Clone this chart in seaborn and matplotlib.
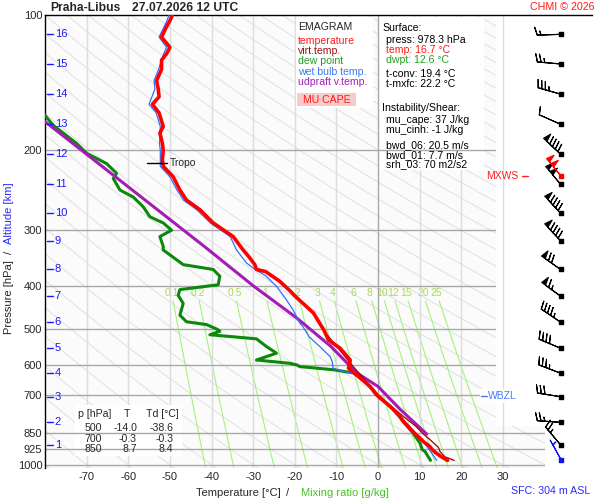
import matplotlib.pyplot as plt
import numpy as np
import seaborn as sns
from matplotlib.patches import Rectangle, Polygon
from matplotlib.ticker import NullLocator

# ---- sounding data ----
temp_p = [978.3, 960, 940, 925, 910, 890, 870, 850, 835, 800, 781, 742, 700, 670, 632, 610, 598, 585,
          551, 528, 502, 480, 460, 438, 423, 410, 391, 372, 368, 359, 345, 333, 311, 290, 271, 258,
          245, 229, 217, 210, 200, 193, 183, 177, 165, 158, 152, 146, 140, 132, 126, 122, 118, 112,
          107, 103, 100]
temp_t = [16.7, 15.2, 13.8, 13.0, 12.4, 11.0, 9.9, 8.7, 7.9, 6.0, 5.3, 2.9, -0.3, -1.9, -5.1, -7.1, -6.8, -6.7,
          -9.1, -11.9, -13.0, -14.3, -15.5, -18.0, -19.8, -21.2, -23.6, -27.0, -29.2, -29.6, -31.0, -32.4,
          -34.8, -39.6, -42.8, -46.0, -47.6, -49.2, -51.6, -51.8, -51.6, -51.8, -52.4, -51.6, -52.6, -54.2,
          -52.6, -52.8, -53.2, -52.0, -52.0, -50.8, -50.0, -52.0, -51.0, -50.0, -49.4]

virt_p = [978.3, 960, 935, 915, 880, 855, 820, 780, 700, 600, 500]
virt_t = [18.3, 16.0, 14.9, 14.5, 12.5, 10.9, 9.0, 6.0, 0.0, -6.3, -13.3]

dew_p = [978.3, 975, 935, 925, 896, 850, 842, 800, 753, 700, 658, 625, 615, 605, 600, 595, 585, 565,
         546, 525, 514, 505, 500, 488, 481, 465, 438, 420, 408, 398, 381, 368, 359, 333, 327, 311, 301,
         290, 281, 267, 254, 245, 231, 225, 214, 203, 193, 176, 163]
dew_t = [12.6, 12.5, 11.3, 10.6, 10.1, 8.4, 8.0, 6.0, 3.7, -0.3, -2.7, -5.9, -10.7, -18.8, -19.5, -21.2, -29.2,
         -24.4, -26.8, -29.2, -40.4, -38.0, -38.6, -41.2, -46.0, -47.6, -46.8, -48.0, -47.6, -38.4, -38.0,
         -39.6, -46.8, -51.6, -51.6, -52.4, -49.6, -51.6, -54.8, -56.4, -58.8, -62.0, -63.6, -62.8, -65.2,
         -70.0, -72.4, -78.0, -81.0]

wb_p = [978.3, 966, 940, 910, 872, 850, 800, 753, 700, 670, 625, 618, 610, 590, 575, 546, 520, 494, 484,
        470, 453, 430, 401, 380, 368, 356, 333, 311, 290, 271, 258, 245, 229, 217, 200, 193, 177, 165,
        158, 146, 140, 132, 122, 118, 112, 103, 100]
wb_t = [14.1, 13.7, 12.8, 11.7, 10.1, 9.0, 6.4, 3.9, 0.1, -1.6, -6.3, -9.0, -10.8, -11.0, -11.5, -14.0, -16.5,
        -18.0, -18.8, -19.5, -20.4, -22.0, -24.4, -27.0, -29.5, -31.6, -34.0, -35.5, -40.3, -43.5, -46.7,
        -48.3, -50.0, -52.3, -52.3, -52.5, -52.3, -53.3, -55.0, -53.6, -53.8, -52.7, -51.5, -50.8, -52.6,
        -50.7, -50.2]

parcel_p = [855, 753, 670, 625, 546, 472, 400, 330, 172.6]
parcel_t = [11.7, 5.3, 0.0, -5.1, -11.3, -19.5, -30.0, -41.2, -80.0]

# altitude scale (km) and winds at each km level
alt_km = list(range(1, 17))
alt_p = [904, 805, 706, 626, 551, 482, 422, 368, 318, 276, 238, 204, 175, 150, 128.5, 110.4]
wind_dir = [320, 274, 279, 291, 293, 304, 306, 305, 317, 317, 320, 313, 294, 286, 275, 268]
wind_kt = [25, 25, 30, 35, 40, 45, 65, 70, 90, 90, 100, 90, 10, 35, 25, 15]
sfc_p, sfc_dir, sfc_kt = 975, 331, 5
mxws_p, mxws_dir, mxws_kt = 227.6, 320, 100

p_ticks = [100, 200, 300, 400, 500, 600, 700, 850, 925, 1000]
t_ticks = [-70, -60, -50, -40, -30, -20, -10, 0, 10, 20, 30]
mix_ratios = [0.1, 0.2, 0.5, 1, 2, 3, 4, 6, 8, 10, 12, 15, 20, 25]

table_rows = [('500', '-14.0', '-38.6'), ('700', '-0.3', '-0.3'), ('850', '8.7', '8.4')]

sns.set_style('white')
plt.rcParams['font.family'] = ['Liberation Sans', 'DejaVu Sans']
plt.rcParams['axes.unicode_minus'] = False

fig = plt.figure(figsize=(6, 5), dpi=100)
ax = fig.add_axes([45 / 600, 1 - 468 / 500, (592 - 45) / 600, (468 - 15) / 500])
ax.set_yscale('log')
ax.set_xlim(-80, 51.4)
ax.set_ylim(1017, 100)


def px(x, y):
    return x / 600, 1 - y / 500


def T_of_px(x):
    return (x - 378) / 4.16


# plotting region (barb column cut out)
region = Polygon([(-80, 100), (28.4, 100), (28.4, 822), (40, 822), (40, 1017), (-80, 1017)],
                 closed=True, facecolor='#fbfbfb', edgecolor='none', zorder=0.5)
ax.add_patch(region)

pp = np.geomspace(100, 1017, 120)
for th in range(-80, 361, 10):
    tt = (th + 273.15) * (pp / 1000) ** 0.286 - 273.15
    ln, = ax.plot(tt, pp, color='#e0e0e0', lw=0.7, zorder=1)
    ln.set_clip_path(region)

pm = np.geomspace(432, 1017, 50)
for w in mix_ratios:
    e = w * pm / (622 + w)
    g = np.log(e / 6.112)
    ax.plot(243.5 * g / (17.67 - g), pm, color='#a4f27c', lw=0.8, zorder=1.2)
    e0 = w * 415 / (622 + w)
    g0 = np.log(e0 / 6.112)
    lab = f'{w:g}'
    ax.text(243.5 * g0 / (17.67 - g0), 415, lab, color='#a8d85a', fontsize=7.5,
            ha='center', va='center', zorder=1.3)

for t in t_ticks:
    ax.axvline(t, color='#a8a8a8' if t == 0 else '#dcdcdc', lw=1, zorder=1.4 if t else 2)

for p in p_ticks[1:]:
    ln = ax.axhline(p, color='#a8a8a8', lw=1, zorder=2)
    ln.set_clip_path(region)

# white text boxes
for (x0, y0, x1, y1) in [(296, 17, 373, 108), (379, 17, 484, 170), (75, 405, 182, 456)]:
    ax.add_patch(Rectangle(px(x0, y1), (x1 - x0) / 600, (y1 - y0) / 500, transform=fig.transFigure,
                           facecolor='white', edgecolor='none', zorder=1.5, clip_on=False))

# profiles
sns.lineplot(x=dew_t, y=dew_p, sort=False, estimator=None, color='#0a8a0a', lw=2.2, ax=ax, zorder=3)
sns.lineplot(x=parcel_t, y=parcel_p, sort=False, estimator=None, color='#a41cb4', lw=2.2, ax=ax, zorder=3.5)
sns.lineplot(x=wb_t, y=wb_p, sort=False, estimator=None, color='#2f6fff', lw=0.9, ax=ax, zorder=4)
sns.lineplot(x=virt_t, y=virt_p, sort=False, estimator=None, color='#9a0000', lw=0.9, ax=ax, zorder=4.2)
sns.lineplot(x=temp_t, y=temp_p, sort=False, estimator=None, color='#ff0000', lw=2.6, ax=ax, zorder=5)

# altitude scale
for km, p in zip(alt_km, alt_p):
    ax.plot([T_of_px(47), T_of_px(53.5)], [p, p], color='#1a1aff', lw=1, zorder=6)
    ax.text(T_of_px(55), p, str(km), color='#1a1aff', fontsize=8, ha='left', va='center', zorder=6)

# tropopause / markers
ax.plot([T_of_px(147), T_of_px(167)], [213.5, 213.5], color='black', lw=1, zorder=6)
ax.text(T_of_px(170), 213.5, 'Tropo', fontsize=7.5, ha='left', va='center', zorder=6)
ax.text(T_of_px(518), mxws_p, 'MXWS', color='#ff2020', fontsize=7.5, ha='right', va='center', zorder=6)
ax.plot([T_of_px(522), T_of_px(528)], [mxws_p, mxws_p], color='#ff2020', lw=1, zorder=6, clip_on=False)
ax.add_patch(Rectangle(px(480, 403), 42 / 600, 14 / 500, transform=fig.transFigure,
                       facecolor='white', edgecolor='none', zorder=5.5, clip_on=False))
ax.plot([T_of_px(481), T_of_px(487)], [705, 705], color='#4a7aff', lw=1, zorder=6)
ax.text(T_of_px(488), 705, 'WBZL', color='#4a7aff', fontsize=7.5, ha='left', va='center', zorder=6)

# wind barbs
xb = T_of_px(560.5)
bsize = dict(spacing=0.16, height=0.34, width=0.2)
blen = 5.8


def uv(d, s):
    r = np.deg2rad(np.asarray(d, dtype=float))
    s = np.asarray(s, dtype=float)
    return -s * np.sin(r), -s * np.cos(r)


u, v = uv(wind_dir, wind_kt)
ax.barbs([xb] * len(alt_p), alt_p, u, v, length=blen, sizes=bsize, lw=0.8, color='black', zorder=7, clip_on=False)
u, v = uv([mxws_dir], [mxws_kt])
ax.barbs([xb], [mxws_p], u, v, length=blen, sizes=bsize, lw=0.8, color='#ff0000', zorder=7.5, clip_on=False)
u, v = uv([sfc_dir], [sfc_kt])
ax.barbs([xb], [sfc_p], u, v, length=blen, sizes=bsize, lw=0.8, color='#1010ff', zorder=7, clip_on=False)
ax.scatter([xb] * len(alt_p), alt_p, marker='s', s=5, color='black', zorder=8, clip_on=False)
ax.scatter([xb], [mxws_p], marker='s', s=5, color='#ff0000', zorder=8, clip_on=False)
ax.scatter([xb], [sfc_p], marker='s', s=5, color='#1010ff', zorder=8, clip_on=False)

# axes styling
ax.set_yticks(p_ticks)
ax.set_yticklabels([str(p) for p in p_ticks])
ax.yaxis.set_minor_locator(NullLocator())
ax.set_xticks(t_ticks)
ax.set_xticklabels([str(t) for t in t_ticks])
ax.tick_params(length=0, pad=3, labelsize=8)
ax.tick_params(axis='y', pad=2)
for s in ['right', 'bottom']:
    ax.spines[s].set_visible(False)
for s in ['left', 'top']:
    ax.spines[s].set_color('black')
    ax.spines[s].set_linewidth(1)
ax.set_xlabel('')
ax.set_ylabel('')

# titles and labels
fig.text(*px(50, 8), 'Praha-Libus', fontsize=8.7, fontweight='bold', ha='left', va='center')
fig.text(*px(132, 8), '27.07.2026 12 UTC', fontsize=8.7, fontweight='bold', ha='left', va='center')
fig.text(*px(595, 7), 'CHMI © 2026', fontsize=7.7, color='#ff1a1a', ha='right', va='center')
fig.text(*px(590, 491), 'SFC: 304 m ASL', fontsize=7.7, color='#2a2aff', ha='right', va='center')
fig.text(*px(238.5, 493), 'Temperature [°C]', fontsize=8, ha='center', va='center')
fig.text(*px(288, 493), '/', fontsize=8, ha='center', va='center')
fig.text(*px(344.5, 493), 'Mixing ratio [g/kg]', fontsize=8, color='#44c424', ha='center', va='center')
fig.text(*px(9, 297.5), 'Pressure [hPa]', fontsize=8, rotation=90, ha='center', va='center')
fig.text(*px(9, 252), '/', fontsize=8, rotation=90, ha='center', va='center')
fig.text(*px(9, 213), 'Altitude [km]', fontsize=8, rotation=90, color='#2a2aff', ha='center', va='center')

# legend box
fig.text(*px(298, 27), 'EMAGRAM', fontsize=7.6, ha='left', va='center')
leg = [('temperature', '#ff1a1a'), ('virt.temp.', '#9a1010'), ('dew point', '#20a020'),
       ('wet bulb temp.', '#3a7af0'), ('udpraft v.temp.', '#a020c0')]
for i, (name, col) in enumerate(leg):
    fig.text(*px(298, 41 + 10.2 * i), name, fontsize=7.6, color=col, ha='left', va='center')
ax.add_patch(Rectangle(px(297, 106), 59 / 600, 13 / 500, transform=fig.transFigure,
                       facecolor='#f9caca', edgecolor='none', zorder=6, clip_on=False))
fig.text(*px(303, 100), 'MU CAPE', fontsize=7.6, color='#ff1a1a', ha='left', va='center')

# surface / instability box
info = [(382, 28.3, 'Surface:', 'black'), (386, 40, 'press: 978.3 hPa', 'black'),
        (386, 50, 'temp: 16.7 °C', '#ff1a1a'), (386, 60, 'dwpt: 12.6 °C', '#20a020'),
        (386, 74.3, 't-conv: 19.4 °C', 'black'), (386, 84.3, 't-mxfc: 22.2 °C', 'black'),
        (382, 108.3, 'Instability/Shear:', 'black'), (386, 120, 'mu_cape: 37 J/kg', 'black'),
        (386, 130, 'mu_cinh: -1 J/kg', 'black'), (386, 145, 'bwd_06: 20.5 m/s', 'black'),
        (386, 155, 'bwd_01: 7.7 m/s', 'black'), (386, 164.5, 'srh_03: 70 m2/s2', 'black')]
for x, y, s, col in info:
    fig.text(*px(x, y), s, fontsize=7.6, color=col, ha='left', va='center')

# level table
fig.text(*px(78, 414), 'p [hPa]', fontsize=7.6, ha='left', va='center')
fig.text(*px(127, 414), 'T', fontsize=7.6, ha='center', va='center')
fig.text(*px(146, 414), 'Td [°C]', fontsize=7.6, ha='left', va='center')
for i, (pl, tl, dl) in enumerate(table_rows):
    y = 428.3 + 10.2 * i
    fig.text(*px(102, y), pl, fontsize=7.6, ha='right', va='center')
    fig.text(*px(137, y), tl, fontsize=7.6, ha='right', va='center')
    fig.text(*px(173.5, y), dl, fontsize=7.6, ha='right', va='center')

fig.savefig('out.png', dpi=100)
